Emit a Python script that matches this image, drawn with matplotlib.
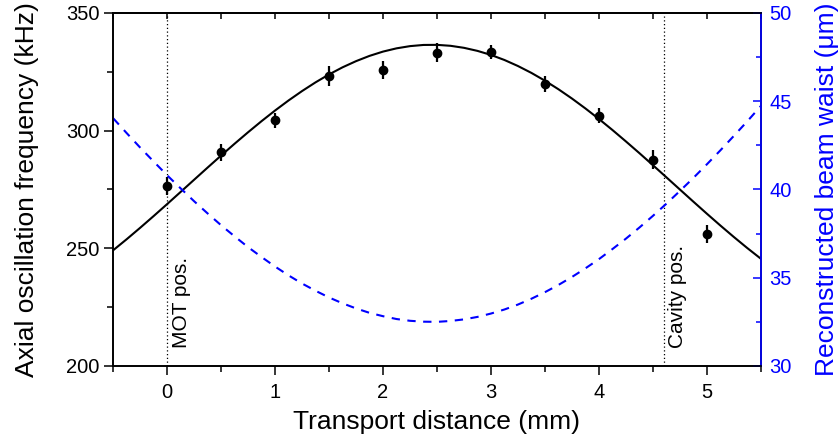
import matplotlib
matplotlib.use("Agg")
import matplotlib.pyplot as plt
from matplotlib.ticker import MultipleLocator

plt.rcParams["font.family"] = ["Liberation Sans", "DejaVu Sans"]

# measured axial trap frequency
dist_mm = [0.0, 0.5, 1.0, 1.5, 2.0, 2.5, 3.0, 3.5, 4.0, 4.5, 5.0]
freq_khz = [276.5, 290.8, 304.5, 323.2, 325.9, 333.2, 333.4, 319.9, 306.4, 287.6, 256.0]
freq_err = [4.0, 3.6, 3.2, 4.4, 3.8, 4.1, 2.9, 3.4, 3.2, 4.0, 3.8]

curve_x = [i * 0.125 - 0.5 for i in range(49)]
fit_khz = [249.21, 253.89, 258.75, 263.74, 268.83, 273.99, 279.17, 284.34, 289.45, 294.47,
           299.35, 304.07, 308.58, 312.85, 316.84, 320.54, 323.91, 326.92, 329.54, 331.78,
           333.60, 334.98, 335.92, 336.42, 336.46, 336.06, 335.20, 333.90, 332.18, 330.03,
           327.47, 324.54, 321.24, 317.61, 313.67, 309.45, 304.99, 300.31, 295.45, 290.47,
           285.37, 280.21, 275.03, 269.86, 264.75, 259.73, 254.85, 250.13, 245.62]
waist_um = [44.03, 43.19, 42.37, 41.58, 40.80, 40.06, 39.33, 38.64, 37.97, 37.34,
            36.73, 36.17, 35.63, 35.13, 34.67, 34.26, 33.88, 33.55, 33.26, 33.01,
            32.82, 32.66, 32.56, 32.51, 32.50, 32.55, 32.64, 32.78, 32.97, 33.20,
            33.48, 33.81, 34.18, 34.59, 35.04, 35.53, 36.05, 36.62, 37.21, 37.84,
            38.50, 39.19, 39.91, 40.65, 41.42, 42.21, 43.03, 43.86, 44.72]

mot_pos = 0.0
cavity_pos = 4.6

fig = plt.figure(figsize=(8.39, 4.42), dpi=100)
ax = fig.add_axes([0.135, 0.172, 0.7717, 0.7986])
ax2 = ax.twinx()

ax2.plot(curve_x, waist_um, color="blue", lw=1.5, ls=(0, (4, 3.6)))
ax.plot(curve_x, fit_khz, color="black", lw=1.5, zorder=3)
ax.errorbar(dist_mm, freq_khz, yerr=freq_err, fmt="o", color="black", ms=6,
            elinewidth=1.6, capsize=0, zorder=4)

for xpos, txt in [(mot_pos, "MOT pos."), (cavity_pos, "Cavity pos.")]:
    ax.axvline(xpos, color="black", lw=0.9, ls=(0, (1, 2)), zorder=1)
    ax.text(xpos + 0.04, 0.05, txt, rotation=90, fontsize=15, ha="left", va="bottom",
            transform=ax.get_xaxis_transform())

ax.set_xlim(-0.5, 5.5)
ax.set_ylim(200, 350)
ax2.set_ylim(30, 50)

ax.xaxis.set_major_locator(MultipleLocator(1))
ax.xaxis.set_minor_locator(MultipleLocator(0.5))
ax.yaxis.set_major_locator(MultipleLocator(50))
ax.yaxis.set_minor_locator(MultipleLocator(25))
ax2.yaxis.set_major_locator(MultipleLocator(5))
ax2.yaxis.set_minor_locator(MultipleLocator(2.5))

ax.tick_params(which="both", direction="out", labelsize=14.5, width=1.1)
ax.tick_params(which="major", length=6.5)
ax.tick_params(which="minor", length=4)
ax.tick_params(axis="y", pad=3.5)
ax.tick_params(axis="x", pad=5.5)

top = ax.secondary_xaxis("top")
top.xaxis.set_major_locator(MultipleLocator(0.5))
top.tick_params(direction="in", length=4.5, width=1.1, labeltop=False)

ax2.tick_params(which="both", direction="in", colors="blue", labelsize=14.5, width=1.1, pad=6)
ax2.tick_params(which="major", length=5.5)
ax2.tick_params(which="minor", length=3.5)

for sp in ax.spines.values():
    sp.set_linewidth(1.2)
for sp in ax2.spines.values():
    sp.set_linewidth(1.2)
ax2.spines["right"].set_color("blue")
top.spines["top"].set_linewidth(1.2)

ax.set_xlabel("Transport distance (mm)", fontsize=19, labelpad=6)
ax.set_ylabel("Axial oscillation frequency (kHz)", fontsize=19, labelpad=19)
ax2.set_ylabel("Reconstructed beam waist (\u03bcm)", fontsize=19, color="blue", labelpad=17)

fig.savefig("out.png", dpi=100)
